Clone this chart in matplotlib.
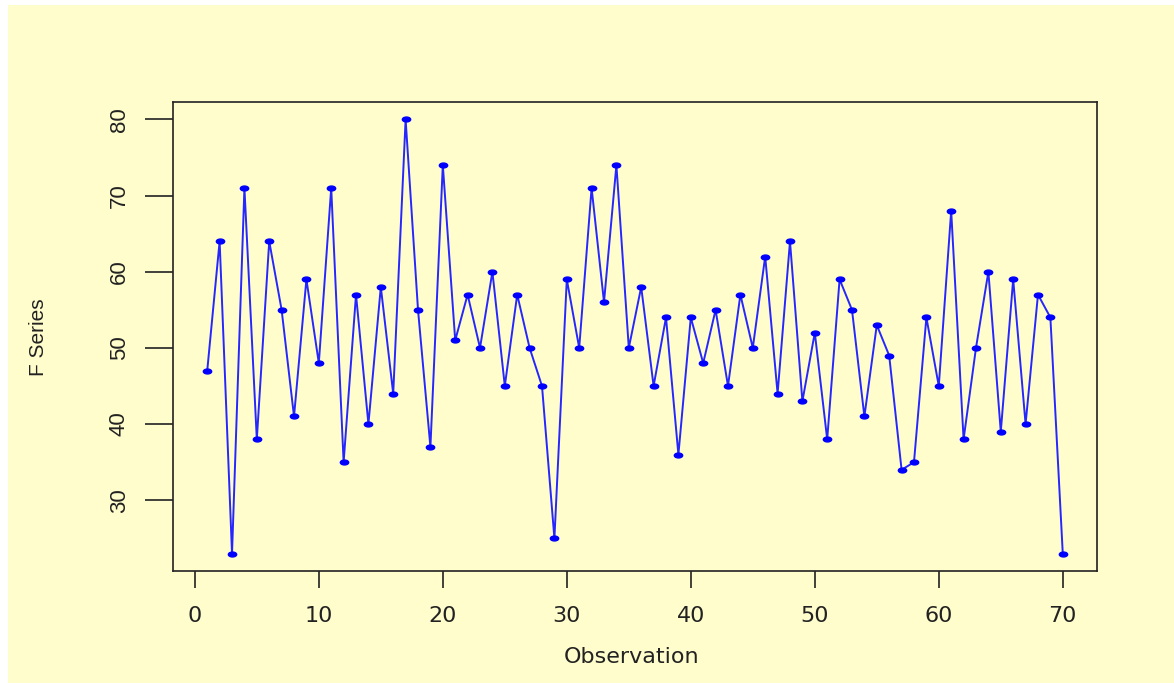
import matplotlib
matplotlib.use("Agg")
from matplotlib import pyplot as plt
from matplotlib.path import Path
from matplotlib.transforms import Affine2D
from matplotlib.patches import Rectangle

# F series, one value per observation
observation = list(range(1, 71))
f_series = [
    47, 64, 23, 71, 38, 64, 55, 41, 59, 48,
    71, 35, 57, 40, 58, 44, 80, 55, 37, 74,
    51, 57, 50, 60, 45, 57, 50, 45, 25, 59,
    50, 71, 56, 74, 50, 58, 45, 54, 36, 54,
    48, 55, 45, 57, 50, 62, 44, 64, 43, 52,
    38, 59, 55, 41, 53, 49, 34, 35, 54, 45,
    68, 38, 50, 60, 39, 59, 40, 57, 54, 23,
]
x_ticks = [0, 10, 20, 30, 40, 50, 60, 70]
y_ticks = [30, 40, 50, 60, 70, 80]

bg = "#FFFDCC"

fig = plt.figure(figsize=(11.74, 6.83), dpi=100, facecolor="white")
# yellow page with a thin white strip on top and left
fig.patches.append(Rectangle((8 / 1174, 0), 1, 1 - 5 / 683,
                             transform=fig.transFigure, facecolor=bg,
                             edgecolor="none", zorder=-1))

ax = fig.add_axes([173 / 1174, 1 - 571 / 683, 924 / 1174, 469 / 683])
ax.set_facecolor(bg)

# wide flat dot, like the stretched R points
dot = Path.unit_circle().transformed(Affine2D().scale(1.7, 1.0))
ax.plot(observation, f_series, color="#2626FF", linewidth=1.4)
ax.plot(observation, f_series, linestyle="none", marker=dot,
        markersize=6, color="#0000FF")

ax.set_xlim(-1.76, 72.76)
ax.set_ylim(20.72, 82.28)
ax.set_xticks(x_ticks)
ax.set_yticks(y_ticks)

for side in ax.spines.values():
    side.set_color("#222222")
    side.set_linewidth(1.2)

ax.tick_params(axis="x", length=12, width=1.2, color="#222222", pad=13,
               labelsize=16, labelcolor="#222222")
ax.tick_params(axis="y", length=20, width=1.2, color="#222222", pad=11,
               labelsize=16, labelcolor="#222222")
for lab in ax.get_xticklabels():
    lab.set_fontfamily("DejaVu Sans")
for lab in ax.get_yticklabels():
    lab.set_fontfamily("Liberation Sans")
    lab.set_rotation(90)
    lab.set_va("center")

fig.text(632 / 1174, 1 - 657 / 683, "Observation", ha="center", va="center",
         fontsize=16, family="DejaVu Sans", color="#222222")
fig.text(39 / 1174, 1 - 337 / 683, "F Series", ha="center", va="center",
         rotation=90, fontsize=15, family="Liberation Sans", color="#222222")

fig.savefig("out.png", dpi=100, facecolor=fig.get_facecolor())
